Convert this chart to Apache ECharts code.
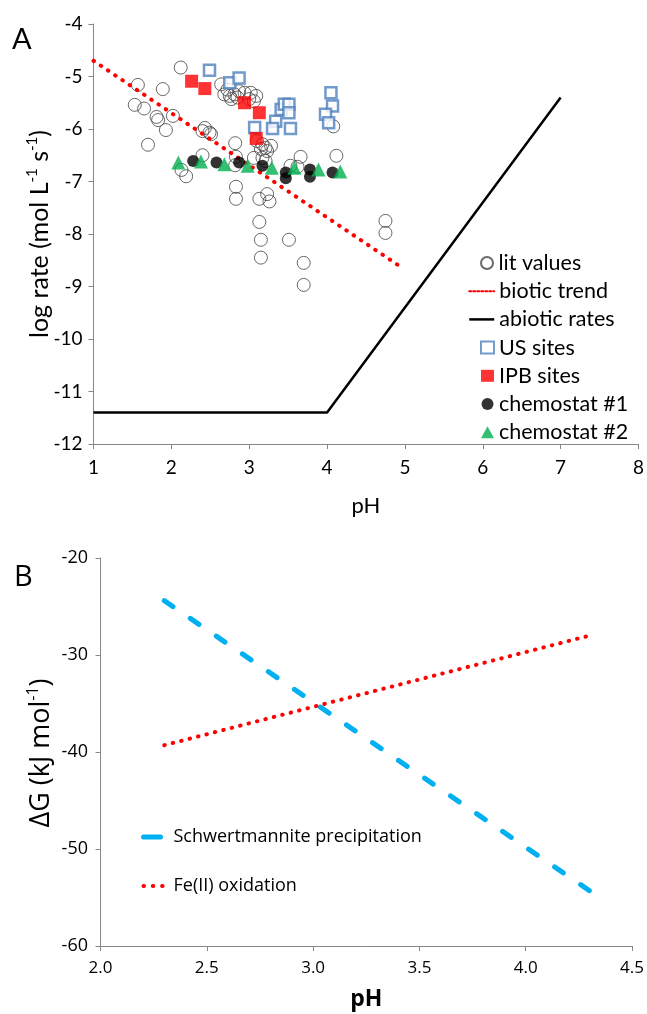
<!DOCTYPE html>
<html>
<head>
<meta charset="utf-8">
<script src="https://cdn.jsdelivr.net/npm/echarts@6/dist/echarts.min.js"></script>
<style>
html,body{margin:0;padding:0;background:#fff;}
#chart{width:647px;height:1014px;}
</style>
</head>
<body>
<div id="chart"></div>
<script>
// ---------- Panel A data (pH, log rate) ----------
const litValues = [
  [2.12,-4.83],[1.57,-5.16],[1.89,-5.24],[1.53,-5.54],[1.65,-5.61],[1.81,-5.77],[1.83,-5.83],
  [2.02,-5.75],[1.93,-6.02],[1.70,-6.30],[2.43,-5.98],[2.49,-6.07],[2.40,-6.04],[2.51,-6.10],
  [2.82,-6.27],[2.40,-6.50],[2.13,-6.78],[2.19,-6.90],[2.83,-7.10],[2.83,-7.33],[3.13,-7.33],
  [3.23,-7.24],[3.26,-7.38],[3.13,-7.77],[3.15,-8.11],[3.15,-8.45],[3.51,-8.11],[3.70,-8.55],
  [3.70,-8.97],[3.10,-6.23],[3.17,-6.29],[3.21,-6.36],[3.23,-6.42],[3.15,-6.38],[3.28,-6.32],
  [2.83,-6.53],[3.06,-6.55],[3.17,-6.55],[3.21,-6.61],[3.66,-6.53],[4.12,-6.51],[3.53,-6.70],
  [3.62,-6.72],[2.64,-5.15],[2.68,-5.34],[2.75,-5.37],[2.81,-5.34],[2.87,-5.28],[2.94,-5.31],
  [3.02,-5.31],[3.09,-5.37],[2.77,-5.43],[3.00,-5.43],[3.06,-5.47],[2.72,-5.25],[2.85,-5.40],
  [4.75,-7.75],[4.75,-7.98],[4.08,-5.95],[2.82,-6.69]
];
const bioticTrend = [[1,-4.7],[4.97,-8.65]];
const abioticRates = [[1,-11.4],[4,-11.4],[7,-5.4]];
const usSites = [
  [2.49,-4.88],[2.75,-5.12],[2.87,-5.03],[3.07,-5.97],[3.34,-5.85],[3.30,-5.99],[3.41,-5.63],
  [3.45,-5.53],[3.51,-5.53],[3.51,-5.69],[3.53,-5.99],[4.05,-5.31],[4.07,-5.56],[3.98,-5.72],[4.02,-5.88]
];
const ipbSites = [[2.26,-5.09],[2.43,-5.23],[2.94,-5.50],[3.13,-5.69],[3.09,-6.18]];
const chemostat1 = [
  [2.28,-6.61],[2.58,-6.64],[2.87,-6.64],[3.17,-6.70],[3.47,-6.83],[3.47,-6.94],
  [3.78,-6.77],[3.78,-6.91],[4.07,-6.83]
];
const chemostat2 = [
  [2.09,-6.64],[2.38,-6.62],[2.68,-6.67],[2.98,-6.70],[3.29,-6.74],[3.58,-6.74],[3.89,-6.77],[4.17,-6.81]
];
// ---------- Panel B data (pH, ΔG) ----------
const schwertmannite = [[2.3,-24.4],[4.3,-54.3]];
const feOxidation = [[2.3,-39.3],[4.3,-28.0]];

const fontA = 'Lato, "Liberation Sans", sans-serif';
const fontB = '"Open Sans", "Noto Sans", sans-serif';
const axisGray = '#888888';

const chart = echarts.init(document.getElementById('chart'), null, {renderer:'canvas'});

function axisCommon(font, size, margin){
  return {
    axisLine:{show:true, onZero:false, lineStyle:{color:axisGray, width:1}},
    axisTick:{show:true, inside:false, length:5, lineStyle:{color:axisGray}},
    splitLine:{show:false},
    axisLabel:{color:'#000', fontFamily:font, fontSize:size, margin:margin}
  };
}

const hideSym = {opacity:0, color:'rgba(0,0,0,0)', borderWidth:0};
const legTextA = {fontFamily:fontA, fontSize:21.5, color:'#000', lineHeight:22};
const rowA = 28.2, topA = 252;

const option = {
  animation:false,
  backgroundColor:'#fff',
  graphic:[
    {type:'text', left:12, top:25, style:{text:'A', fontSize:29, fontFamily:fontA, fill:'#000'}},
    {type:'text', left:14, top:563, style:{text:'B', fontSize:29, fontFamily:fontB, fill:'#000'}},
    {type:'text', x:40, y:234, rotation:Math.PI/2,
      style:{text:'log rate (mol L{sup|-1} s{sup|-1})', fontFamily:fontA, fontSize:25, fill:'#000',
        lineHeight:30, align:'center', verticalAlign:'middle',
        rich:{sup:{fontFamily:fontA, fontSize:15, lineHeight:16, verticalAlign:'top', fill:'#000'}}}},
    {type:'text', x:41, y:753, rotation:Math.PI/2,
      style:{text:'ΔG (kJ mol{sup|-1})', fontFamily:fontB, fontSize:27, fill:'#000',
        lineHeight:32, align:'center', verticalAlign:'middle',
        rich:{sup:{fontFamily:fontB, fontSize:16, lineHeight:17, verticalAlign:'top', fill:'#000'}}}}
  ],
  grid:[
    {left:93.5, top:24, width:547.5, height:420},
    {left:100.5, top:558, width:535, height:388}
  ],
  xAxis:[
    Object.assign(axisCommon(fontA,19,14), {
      type:'value', gridIndex:0, min:1, max:8, interval:1,
      name:'pH', nameLocation:'middle', nameGap:51,
      nameTextStyle:{fontFamily:fontA, fontSize:22, color:'#000'}
    }),
    Object.assign(axisCommon(fontB,17,13.5), {
      type:'value', gridIndex:1, min:2, max:4.5, interval:0.5,
      name:'pH', nameLocation:'middle', nameGap:42,
      nameTextStyle:{fontFamily:fontB, fontSize:23, color:'#000', fontWeight:'bold'}
    })
  ],
  yAxis:[
    Object.assign(axisCommon(fontA,19,11), {
      type:'value', gridIndex:0, min:-12, max:-4, interval:1
    }),
    Object.assign(axisCommon(fontB,18,12.5), {
      type:'value', gridIndex:1, min:-60, max:-20, interval:10
    })
  ],
  legend:[
    {
      orient:'vertical', left:480, top:topA, padding:0, itemWidth:13, itemHeight:12, itemGap:rowA-22,
      textStyle:legTextA, data:[{name:'lit values'}]
    },
    {
      orient:'vertical', left:468, top:topA+rowA, padding:0, itemWidth:25, itemHeight:12, itemGap:rowA-22,
      textStyle:legTextA,
      data:[
        {name:'biotic trend', itemStyle:hideSym, lineStyle:{width:2, type:[2,2], color:'#FF0000'}},
        {name:'abiotic rates', itemStyle:hideSym, lineStyle:{width:2.5, type:'solid', color:'#000'}}
      ]
    },
    {
      orient:'vertical', left:480, top:topA+3*rowA, padding:0, itemWidth:13, itemHeight:12, itemGap:rowA-22,
      textStyle:legTextA,
      data:[{name:'US sites'},{name:'IPB sites'},{name:'chemostat #1'},{name:'chemostat #2'}]
    },
    {
      orient:'vertical', left:141, top:827, padding:0, itemWidth:25, itemHeight:12, itemGap:29,
      textStyle:{fontFamily:fontB, fontSize:18, color:'#000', lineHeight:20},
      data:[
        {name:'Schwertmannite precipitation', itemStyle:hideSym, lineStyle:{width:5, type:[17,30], color:'#00B0F0', cap:'round'}},
        {name:'Fe(II) oxidation', itemStyle:hideSym, lineStyle:{width:4, type:[0.5,8.8], color:'#FF0000', cap:'round'}}
      ]
    }
  ],
  series:[
    {name:'lit values', type:'scatter', xAxisIndex:0, yAxisIndex:0, data:litValues,
      symbol:'circle', symbolSize:13,
      itemStyle:{color:'rgba(255,255,255,0)', borderColor:'#444', borderWidth:1}},
    {name:'biotic trend', type:'line', xAxisIndex:0, yAxisIndex:0, data:bioticTrend,
      symbol:'none', itemStyle:{color:'#FF0000'}, lineStyle:{color:'#FF0000', width:4, type:[0.5,8.2], cap:'round'}, z:3},
    {name:'abiotic rates', type:'line', xAxisIndex:0, yAxisIndex:0, data:abioticRates,
      symbol:'none', itemStyle:{color:'#000'}, lineStyle:{color:'#000', width:2.5}, z:3},
    {name:'US sites', type:'scatter', xAxisIndex:0, yAxisIndex:0, data:usSites,
      symbol:'rect', symbolSize:11,
      itemStyle:{color:'#fff', borderColor:'#4F81BD', borderWidth:2.5}, z:4},
    {name:'IPB sites', type:'scatter', xAxisIndex:0, yAxisIndex:0, data:ipbSites,
      symbol:'rect', symbolSize:13, itemStyle:{color:'#FF0000'}, z:5},
    {name:'chemostat #1', type:'scatter', xAxisIndex:0, yAxisIndex:0, data:chemostat1,
      symbol:'circle', symbolSize:12, itemStyle:{color:'#000'}, z:6},
    {name:'chemostat #2', type:'scatter', xAxisIndex:0, yAxisIndex:0, data:chemostat2,
      symbol:'triangle', symbolSize:14, itemStyle:{color:'#00B050'}, z:7},
    {name:'Schwertmannite precipitation', type:'line', xAxisIndex:1, yAxisIndex:1, data:schwertmannite,
      symbol:'none', itemStyle:{color:'#00B0F0'}, lineStyle:{color:'#00B0F0', width:5, type:[10.5,21], cap:'round'}},
    {name:'Fe(II) oxidation', type:'line', xAxisIndex:1, yAxisIndex:1, data:feOxidation,
      symbol:'none', itemStyle:{color:'#FF0000'}, lineStyle:{color:'#FF0000', width:4, type:[0.5,8.2], cap:'round'}}
  ]
};
option.xAxis[1].axisLabel.formatter = v => v.toFixed(1);
chart.setOption(option);
</script>
</body>
</html>
